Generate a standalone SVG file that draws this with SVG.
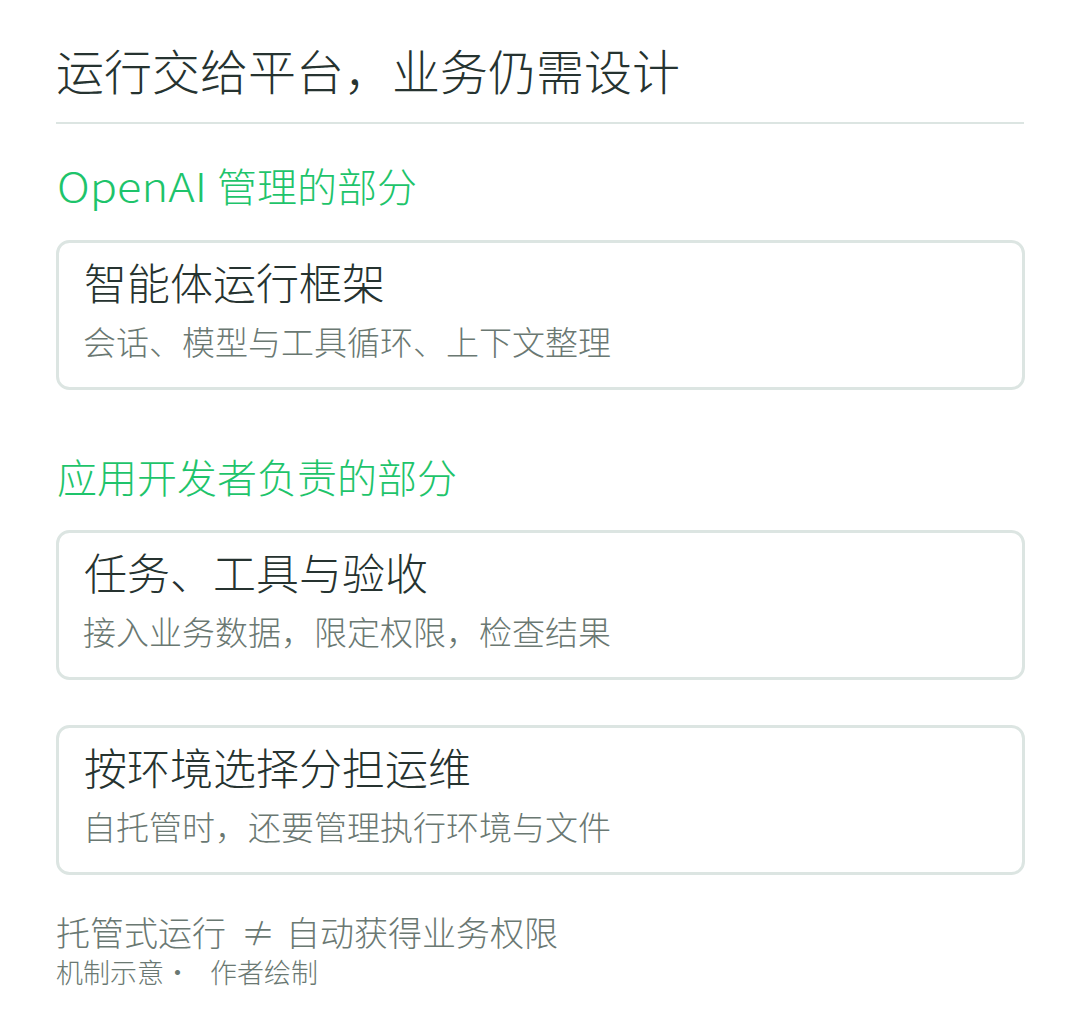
<svg xmlns="http://www.w3.org/2000/svg" width="1080" height="1010" viewBox="0 0 1080 1010">
<style>
text{font-family:"Noto Sans CJK SC","Noto Sans",sans-serif;font-weight:300;}
.h1{font-size:48px;fill:#263330;}
.sec{font-size:40px;fill:#1ec46b;}
.box{fill:#ffffff;stroke:#dce5e2;stroke-width:3;}
.bt{font-size:43px;fill:#263330;}
.bs{font-size:33px;fill:#6a7872;}
.foot{font-size:34px;fill:#6a7872;}
.note{font-size:27px;fill:#6a7872;}
</style>
<rect width="1080" height="1010" fill="#ffffff"/>
<g id="title">
<text class="h1" x="56" y="90">运行交给平台，业务仍需设计</text>
<line x1="56" y1="123" x2="1024" y2="123" stroke="#dce5e2" stroke-width="2"/>
</g>
<g id="section-openai">
<text class="sec" x="57" y="202"><tspan textLength="150" lengthAdjust="spacingAndGlyphs">OpenAI</tspan><tspan x="217">管理的部分</tspan></text>
</g>
<g id="node-runtime">
<rect class="box" x="57.500" y="241.500" width="966" height="147" rx="12"/>
<text class="bt" x="84" y="300">智能体运行框架</text>
<text class="bs" x="83" y="355">会话、模型与工具循环、上下文整理</text>
</g>
<g id="section-dev">
<text class="sec" x="57" y="493">应用开发者负责的部分</text>
</g>
<g id="node-task">
<rect class="box" x="57.500" y="531.500" width="966" height="147" rx="12"/>
<text class="bt" x="84" y="590">任务、工具与验收</text>
<text class="bs" x="83" y="645">接入业务数据，限定权限，检查结果</text>
</g>
<g id="node-ops">
<rect class="box" x="57.500" y="726.500" width="966" height="147" rx="12"/>
<text class="bt" x="84" y="785">按环境选择分担运维</text>
<text class="bs" x="83" y="840">自托管时，还要管理执行环境与文件</text>
</g>
<g id="footer">
<text class="foot" x="56" y="946">托管式运行<tspan x="241">≠</tspan><tspan x="286">自动获得业务权限</tspan></text>
<text class="note" x="56" y="983">机制示意·<tspan x="210">作者绘制</tspan></text>
</g>
<g id="connectors"/>
</svg>
